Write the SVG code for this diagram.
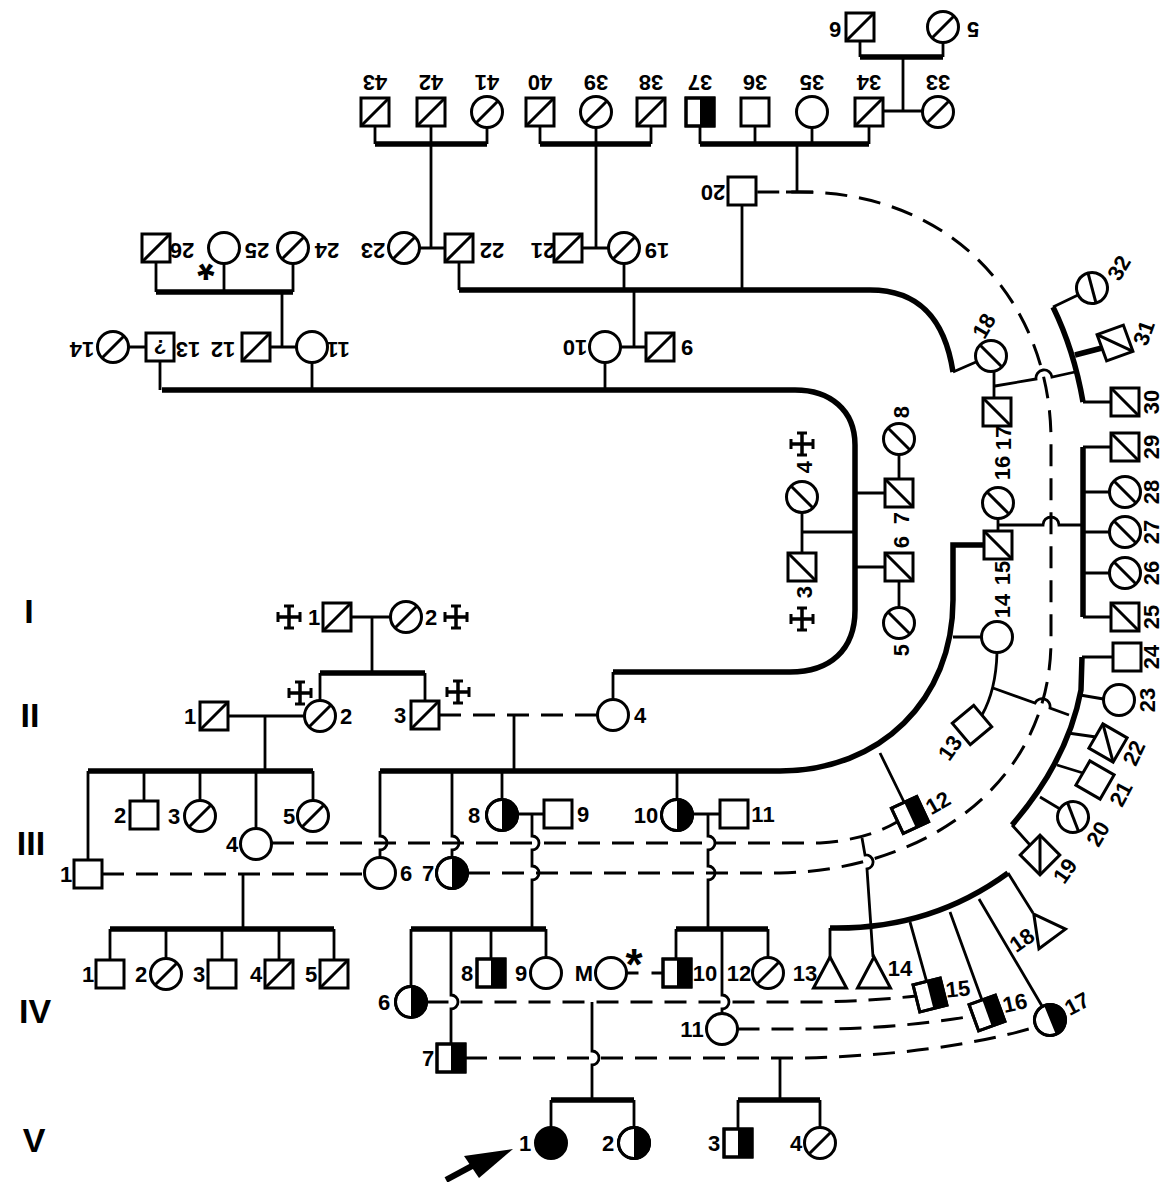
<svg xmlns="http://www.w3.org/2000/svg" width="1164" height="1182" viewBox="0 0 1164 1182">
<style>
.s{fill:#fff;stroke:#000;stroke-width:3}
.k{fill:#000;stroke:none}
.o{fill:none;stroke:#000;stroke-width:3}
.l{fill:none;stroke:#000;stroke-width:2.8}
.t{fill:none;stroke:#000;stroke-width:5.5}
.d{fill:none;stroke:#000;stroke-width:3;stroke-dasharray:22 12}
text{font-family:"Liberation Sans",Arial,Helvetica,sans-serif;font-weight:bold;fill:#000}
.n{font-size:22px;text-anchor:middle;dominant-baseline:central}
.g{font-size:34px;text-anchor:middle;dominant-baseline:central}
.a{font-size:44px;text-anchor:middle}
</style>
<defs>
<g id="sq"><rect x="-14" y="-14" width="28" height="28" class="s"/></g>
<g id="sqs"><rect x="-14" y="-14" width="28" height="28" class="s"/><path d="M-14 14L14 -14" class="o"/></g>
<g id="sqh"><rect x="-14" y="-14" width="28" height="28" class="s"/><rect x="0" y="-14" width="14" height="28" class="k"/><rect x="-14" y="-14" width="28" height="28" class="o"/></g>
<g id="ci"><circle r="15.5" class="s"/></g>
<g id="cis"><circle r="15.5" class="s"/><path d="M-11 11L11 -11" class="o"/></g>
<g id="cih"><circle r="15.5" class="s"/><path d="M0 -15.5A15.5 15.5 0 0 1 0 15.5Z" class="k"/><circle r="15.5" class="o"/></g>
<g id="cif"><circle r="15.5" fill="#000" stroke="#000" stroke-width="3"/></g>
<g id="tri"><path d="M0 -15.5L16.5 15.5H-16.5Z" class="s" stroke-linejoin="miter"/></g>
<g id="x" fill="none" stroke="#000"><path d="M-11 0H11M0 -11V11" stroke-width="3.5"/><path d="M-11 -5V5M11 -5V5M-5 -11H5M-5 11H5" stroke-width="3"/></g>
</defs>
<rect width="1164" height="1182" fill="#fff"/>

<g id="generations">
<text class="g" x="29" y="611">I</text>
<text class="g" x="30" y="715">II</text>
<text class="g" x="31" y="843">III</text>
<text class="g" x="35" y="1011">IV</text>
<text class="g" x="34" y="1140">V</text>
</g>

<g id="connectors">
<path class="l" d="M351 617H390M372 617V673M320 673V700.5M425 673V701M228 716H304.5M265 716V771"/>
<path class="t" d="M320 673H425M88 771H313"/>
<path class="l" d="M88 771V860M144 771V801M200 771V800.5M256 771V828.5M313 771V800.5"/>
<path class="d" d="M102 874H364.5"/>
<path class="l" d="M243 874V929"/>
<path class="t" d="M110 929H334"/>
<path class="l" d="M110 929V960M166 929V958.5M222 929V960M279 929V960M334 929V960"/>
<path class="d" d="M439 715H597.5"/>
<path class="l" d="M514 715V771"/>
<path class="t" d="M380 771H780C880 771 953 700 953 600V545H984"/>
<path class="l" d="M380 771V836A7 7 0 0 1 380 850V857.5M452 771V836A7 7 0 0 1 452 850V857.5M502 771V799.5M677 771V799.5"/>
<path class="l" d="M517.5 814H544M692.5 814H720"/>
<path class="l" d="M532 814V836A7 7 0 0 1 532 850V866A7 7 0 0 1 532 880V929M708 814V836A7 7 0 0 1 708 850V866A7 7 0 0 1 708 880V929"/>
<path class="l" d="M953 637H981.5M880 753L904 802"/>
<path class="d" d="M272 843H820Q866 840 897 822"/>
<path class="d" d="M468 873H780C930 870 1051 780 1051 640V440C1051 310 960 192 800 192H756"/>
<path class="l" d="M797 144V192M786 192H813"/>
<path class="t" d="M411 929H546M676 929H768"/>
<path class="l" d="M411 929V986.5M451 929V995A7 7 0 0 1 451 1009V1044M491 929V959M546 929V957.5"/>
<path class="l" d="M676 929V959M722 929V995A7 7 0 0 1 722 1009V1013.5M768 929V957.5"/>
<path class="d" d="M626.5 973H663" style="stroke-dasharray:12 13"/>
<path class="d" d="M426.5 1002H820Q870 1001 916 996"/>
<path class="d" d="M737.5 1029H830Q900 1028 973 1016"/>
<path class="d" d="M465 1058H800Q940 1055 1036 1027"/>
<path class="l" d="M592 1002V1051A7 7 0 0 1 592 1065V1100M780 1058V1100"/>
<path class="t" d="M551 1100H634M738 1100H820"/>
<path class="l" d="M551 1100V1127.5M634 1100V1127.5M738 1100V1129M820 1100V1127.5"/>
<path class="t" d="M830 928Q930 930 1008 873"/>
<path class="l" d="M830 928V957M862 838L865 855A7 7 0 0 1 867 869L873 957M910 922L926.6 981.4M950 912L982 1000M979 899L1042 1006M1008 873L1033 913"/>
<path class="l" d="M997 652.5Q996 690 982 715M993 688L1035 703A8 8 0 0 1 1050 708L1069 715"/>
<path class="t" d="M1082 657L1081 690Q1068 760 1012 825"/>
<path class="l" d="M1082 657H1113M1080 695L1103.5 699M1068 733L1096 737M1057 765L1083 773M1040 797L1060 809M1012 825L1030 845"/>
<path class="t" d="M1083 447V617"/>
<path class="l" d="M998 518.5V531M998 525H1043A8 8 0 0 1 1059 525H1083M1083 447H1111M1083 492H1109.5M1083 532H1109.5M1083 573H1109.5M1083 617H1111"/>
<path class="t" d="M1053 307Q1074 350 1083 402M1075 355L1102 348"/>
<path class="l" d="M1083 402H1111M1053 307L1078 295M994 371.5V398M995 386L1036 379A8 8 0 0 1 1052 377L1075 372"/>
<path class="t" d="M860 57H943M700 144H869M540 144H651M375 144H487M156 292H293"/>
<path class="l" d="M860 41.5V57M943 42.5V57M903 57V111M883 111H922.5"/>
<path class="l" d="M700 126V144M755 126V144M812 127.5V144M869 126V144"/>
<path class="l" d="M540 126V144M596 127.5V144M651 126V144M596 144V248M582 248H608.5"/>
<path class="l" d="M375 126V144M431 126V144M487 127.5V144M431 144V248M418.5 248H445"/>
<path class="l" d="M624 263.5V290M459 262V290M742 205V290"/>
<path class="t" d="M459 290H870C920 290 945 320 953 372"/>
<path class="l" d="M953 372L976 362M634 290V347M620.5 347H646M605 362.5V390"/>
<path class="l" d="M156 262V292M224 263.5V292M293 263.5V292M282 292V347M270 347H296.5M128.5 347H146"/>
<path class="t" d="M162 390H795C830 390 855 410 855 445V610C855 650 830 672 790 672H613"/>
<path class="l" d="M160 361V390M312 362.5V390M613 672V699.5"/>
<path class="l" d="M855 493H885M855 567H885M802 532H855M899 454.5V479M899 581V607.5M802 512.5V553"/>
</g>

<g id="arrow">
<path d="M446 1180L472 1166" stroke="#000" stroke-width="6" fill="none"/>
<path d="M513 1149L464 1156L479 1178Z" fill="#000"/>
</g>

<g id="I-1"><use href="#sqs" x="337" y="617"/><text class="n" x="314" y="617">1</text><use href="#x" x="289" y="617"/></g>
<g id="I-2"><use href="#cis" x="406" y="617"/><text class="n" x="431" y="617">2</text><use href="#x" x="456" y="617"/></g>
<g id="II-1"><use href="#sqs" x="214" y="716"/><text class="n" x="190" y="716">1</text></g>
<g id="II-2"><use href="#cis" x="320" y="716"/><text class="n" x="346" y="716">2</text><use href="#x" x="300" y="693"/></g>
<g id="II-3"><use href="#sqs" x="425" y="715"/><text class="n" x="400" y="715">3</text><use href="#x" x="458" y="692"/></g>
<g id="II-4"><use href="#ci" x="613" y="715"/><text class="n" x="640" y="715">4</text></g>
<g id="III-1"><use href="#sq" x="88" y="874"/><text class="n" x="66" y="874">1</text></g>
<g id="III-2"><use href="#sq" x="144" y="815"/><text class="n" x="120" y="815">2</text></g>
<g id="III-3"><use href="#cis" x="200" y="816"/><text class="n" x="174" y="816">3</text></g>
<g id="III-4"><use href="#ci" x="256" y="844"/><text class="n" x="232" y="844">4</text></g>
<g id="III-5"><use href="#cis" x="313" y="816"/><text class="n" x="289" y="816">5</text></g>
<g id="III-6"><use href="#ci" x="380" y="873"/><text class="n" x="406" y="873">6</text></g>
<g id="III-7"><use href="#cih" x="452" y="873"/><text class="n" x="428" y="873">7</text></g>
<g id="III-8"><use href="#cih" x="502" y="815"/><text class="n" x="474" y="815">8</text></g>
<g id="III-9"><use href="#sq" x="558" y="814"/><text class="n" x="583" y="814">9</text></g>
<g id="III-10"><use href="#cih" x="677" y="815"/><text class="n" x="646" y="815">10</text></g>
<g id="III-11"><use href="#sq" x="734" y="814"/><text class="n" x="763" y="814">11</text></g>
<g id="III-12"><use href="#sqh" transform="translate(910 815) rotate(-25)"/><text class="n" transform="translate(938 803) rotate(-30)">12</text></g>
<g id="III-13"><use href="#sq" transform="translate(972 725) rotate(-40)"/><text class="n" transform="translate(950 748) rotate(-55)">13</text></g>
<g id="III-14"><use href="#ci" x="997" y="637"/><text class="n" transform="translate(1002 606) rotate(-90)">14</text></g>
<g id="III-15"><use href="#sqs" transform="translate(998 545) rotate(-90)"/><text class="n" transform="translate(1002 573) rotate(-90)">15</text></g>
<g id="III-16"><use href="#cis" transform="translate(998 503) rotate(-90)"/><text class="n" transform="translate(1002 468) rotate(-90)">16</text></g>
<g id="III-17"><use href="#sqs" transform="translate(997 412) rotate(-90)"/><text class="n" transform="translate(1003 438) rotate(-90)">17</text></g>
<g id="III-18"><use href="#cis" transform="translate(991 356) rotate(-90)"/><text class="n" transform="translate(984 326) rotate(-60)">18</text></g>
<g id="R-25"><use href="#sqs" transform="translate(1125 617) rotate(-90)"/><text class="n" transform="translate(1151 617) rotate(-90)">25</text></g>
<g id="R-26"><use href="#cis" transform="translate(1125 573) rotate(-90)"/><text class="n" transform="translate(1151 573) rotate(-90)">26</text></g>
<g id="R-27"><use href="#cis" transform="translate(1125 532) rotate(-90)"/><text class="n" transform="translate(1151 532) rotate(-90)">27</text></g>
<g id="R-28"><use href="#cis" transform="translate(1125 492) rotate(-90)"/><text class="n" transform="translate(1151 492) rotate(-90)">28</text></g>
<g id="R-29"><use href="#sqs" transform="translate(1125 447) rotate(-90)"/><text class="n" transform="translate(1151 447) rotate(-90)">29</text></g>
<g id="R-30"><use href="#sqs" transform="translate(1125 402) rotate(-90)"/><text class="n" transform="translate(1151 402) rotate(-90)">30</text></g>
<g id="R-31"><use href="#sqs" transform="translate(1115 343) rotate(-110)"/><text class="n" transform="translate(1144 333) rotate(-70)">31</text></g>
<g id="R-32"><use href="#cis" transform="translate(1092 288) rotate(-60)"/><text class="n" transform="translate(1119 268) rotate(-60)">32</text></g>
<g id="U-3"><use href="#sqs" transform="translate(802 567) rotate(-90)"/><text class="n" transform="translate(804 592) rotate(-90)">3</text><use href="#x" x="802" y="619"/></g>
<g id="U-4"><use href="#cis" transform="translate(802 497) rotate(-90)"/><text class="n" transform="translate(804 467) rotate(-90)">4</text><use href="#x" x="802" y="444"/></g>
<g id="U-5"><use href="#cis" transform="translate(899 623) rotate(-90)"/><text class="n" transform="translate(901 650) rotate(-90)">5</text></g>
<g id="U-6"><use href="#sqs" transform="translate(899 567) rotate(-90)"/><text class="n" transform="translate(901 542) rotate(-90)">6</text></g>
<g id="U-7"><use href="#sqs" transform="translate(899 493) rotate(-90)"/><text class="n" transform="translate(901 518) rotate(-90)">7</text></g>
<g id="U-8"><use href="#cis" transform="translate(899 439) rotate(-90)"/><text class="n" transform="translate(901 412) rotate(-90)">8</text></g>
<g id="R-19"><use href="#sqs" transform="translate(1040 855) rotate(-45)"/><text class="n" transform="translate(1065 871) rotate(-55)">19</text></g>
<g id="R-20"><use href="#cis" transform="translate(1073 817) rotate(-66)"/><text class="n" transform="translate(1098 834) rotate(-60)">20</text></g>
<g id="R-21"><use href="#sq" transform="translate(1095 780) rotate(-60)"/><text class="n" transform="translate(1121 794) rotate(-62)">21</text></g>
<g id="R-22"><use href="#sqs" transform="translate(1108 743) rotate(-60)"/><text class="n" transform="translate(1134 753) rotate(-65)">22</text></g>
<g id="R-23"><use href="#ci" x="1119" y="700"/><text class="n" transform="translate(1147 700) rotate(-90)">23</text></g>
<g id="R-24"><use href="#sq" x="1127" y="657"/><text class="n" transform="translate(1151 657) rotate(-90)">24</text></g>
<g id="IV-1"><use href="#sq" x="110" y="974"/><text class="n" x="88" y="974">1</text></g>
<g id="IV-2"><use href="#cis" x="166" y="974"/><text class="n" x="141" y="974">2</text></g>
<g id="IV-3"><use href="#sq" x="222" y="974"/><text class="n" x="199" y="974">3</text></g>
<g id="IV-4"><use href="#sqs" x="279" y="974"/><text class="n" x="256" y="974">4</text></g>
<g id="IV-5"><use href="#sqs" x="334" y="974"/><text class="n" x="311" y="974">5</text></g>
<g id="IV-6"><use href="#cih" x="411" y="1002"/><text class="n" x="384" y="1002">6</text></g>
<g id="IV-7"><use href="#sqh" x="451" y="1058"/><text class="n" x="428" y="1058">7</text></g>
<g id="IV-8"><use href="#sqh" x="491" y="973"/><text class="n" x="467" y="973">8</text></g>
<g id="IV-9"><use href="#ci" x="546" y="973"/><text class="n" x="521" y="973">9</text></g>
<g id="IV-M"><use href="#ci" x="611" y="973"/><text class="n" x="584" y="973">M</text><text class="a" x="634" y="980">*</text></g>
<g id="IV-10"><use href="#sqh" x="677" y="973"/><text class="n" x="705" y="973">10</text></g>
<g id="IV-11"><use href="#ci" x="722" y="1029"/><text class="n" x="692" y="1029">11</text></g>
<g id="IV-12"><use href="#cis" x="768" y="973"/><text class="n" x="739" y="973">12</text></g>
<g id="IV-13"><use href="#tri" x="830" y="972.5"/><text class="n" x="805" y="973">13</text></g>
<g id="IV-14"><use href="#tri" x="874" y="972.5"/><text class="n" x="900" y="968">14</text></g>
<g id="IV-15"><use href="#sqh" transform="translate(930 995) rotate(-14)"/><text class="n" transform="translate(958 989) rotate(-6)">15</text></g>
<g id="IV-16"><use href="#sqh" transform="translate(987 1013) rotate(-20)"/><text class="n" transform="translate(1015 1003) rotate(-12)">16</text></g>
<g id="IV-17"><use href="#cih" transform="translate(1050 1020) rotate(-22)"/><text class="n" transform="translate(1077 1004) rotate(-28)">17</text></g>
<g id="IV-18"><use href="#tri" transform="translate(1043 926.5) rotate(-36.5)"/><text class="n" transform="translate(1022 940) rotate(-35)">18</text></g>
<g id="V-1"><use href="#cif" x="551" y="1143"/><text class="n" x="525" y="1143">1</text></g>
<g id="V-2"><use href="#cih" x="634" y="1143"/><text class="n" x="608" y="1143">2</text></g>
<g id="V-3"><use href="#sqh" x="738" y="1143"/><text class="n" x="714" y="1143">3</text></g>
<g id="V-4"><use href="#cis" x="820" y="1143"/><text class="n" x="796" y="1143">4</text></g>
<g id="T-5"><use href="#cis" x="943" y="27"/><text class="n" transform="rotate(180 973 29)" x="973" y="29">5</text></g>
<g id="T-6"><use href="#sqs" x="860" y="27"/><text class="n" transform="rotate(180 835 29)" x="835" y="29">6</text></g>
<g id="T-33"><use href="#cis" x="938" y="112"/><text class="n" transform="rotate(180 938 82)" x="938" y="82">33</text></g>
<g id="T-34"><use href="#sqs" x="869" y="112"/><text class="n" transform="rotate(180 869 82)" x="869" y="82">34</text></g>
<g id="T-35"><use href="#ci" x="812" y="112"/><text class="n" transform="rotate(180 812 82)" x="812" y="82">35</text></g>
<g id="T-36"><use href="#sq" x="755" y="112"/><text class="n" transform="rotate(180 755 82)" x="755" y="82">36</text></g>
<g id="T-37"><use href="#sqh" x="700" y="112"/><text class="n" transform="rotate(180 700 82)" x="700" y="82">37</text></g>
<g id="T-38"><use href="#sqs" x="651" y="112"/><text class="n" transform="rotate(180 651 82)" x="651" y="82">38</text></g>
<g id="T-39"><use href="#cis" x="596" y="112"/><text class="n" transform="rotate(180 596 82)" x="596" y="82">39</text></g>
<g id="T-40"><use href="#sqs" x="540" y="112"/><text class="n" transform="rotate(180 540 82)" x="540" y="82">40</text></g>
<g id="T-41"><use href="#cis" x="487" y="112"/><text class="n" transform="rotate(180 487 82)" x="487" y="82">41</text></g>
<g id="T-42"><use href="#sqs" x="431" y="112"/><text class="n" transform="rotate(180 431 82)" x="431" y="82">42</text></g>
<g id="T-43"><use href="#sqs" x="375" y="112"/><text class="n" transform="rotate(180 375 82)" x="375" y="82">43</text></g>
<g id="T-19"><use href="#cis" x="624" y="248"/><text class="n" transform="rotate(180 657 250)" x="657" y="250">19</text></g>
<g id="T-20"><use href="#sq" x="742" y="191"/><text class="n" transform="rotate(180 713 192)" x="713" y="192">20</text></g>
<g id="T-21"><use href="#sqs" x="568" y="248"/><text class="n" transform="rotate(180 543 250)" x="543" y="250">21</text></g>
<g id="T-22"><use href="#sqs" x="459" y="248"/><text class="n" transform="rotate(180 492 250)" x="492" y="250">22</text></g>
<g id="T-23"><use href="#cis" x="404" y="248"/><text class="n" transform="rotate(180 373 250)" x="373" y="250">23</text></g>
<g id="T-24"><use href="#cis" x="293" y="248"/><text class="n" transform="rotate(180 327 250)" x="327" y="250">24</text></g>
<g id="T-25"><use href="#ci" x="224" y="248"/><text class="n" transform="rotate(180 257 250)" x="257" y="250">25</text><text class="a" transform="rotate(180 206 274)" x="206" y="299">*</text></g>
<g id="T-26"><use href="#sqs" x="156" y="248"/><text class="n" transform="rotate(180 182 250)" x="182" y="250">26</text></g>
<g id="T-9"><use href="#sqs" x="660" y="347"/><text class="n" transform="rotate(180 687 347)" x="687" y="347">9</text></g>
<g id="T-10"><use href="#ci" x="605" y="347"/><text class="n" transform="rotate(180 575 347)" x="575" y="347">10</text></g>
<g id="T-11"><use href="#ci" x="312" y="347"/><text class="n" transform="rotate(180 338 349)" x="338" y="349">11</text></g>
<g id="T-12"><use href="#sqs" x="256" y="347"/><text class="n" transform="rotate(180 223 349)" x="223" y="349">12</text></g>
<g id="T-13"><use href="#sq" x="160" y="347"/><text class="n" transform="rotate(180 160 347)" x="160" y="347" style="font-size:21px">?</text><text class="n" transform="rotate(180 188 349)" x="188" y="349">13</text></g>
<g id="T-14"><use href="#cis" x="113" y="347"/><text class="n" transform="rotate(180 82 349)" x="82" y="349">14</text></g>
</svg>
